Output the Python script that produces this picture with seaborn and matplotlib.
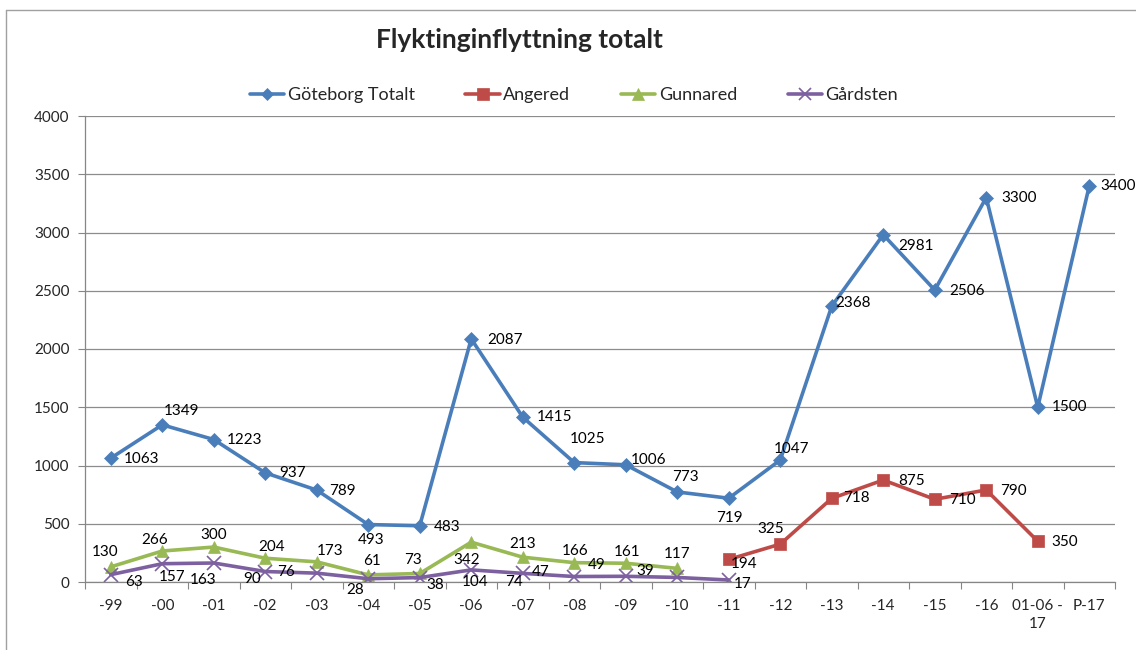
import numpy as np
import pandas as pd
import matplotlib
matplotlib.use("Agg")
import matplotlib.pyplot as plt
from matplotlib.lines import Line2D
import seaborn as sns

categories = ["-99", "-00", "-01", "-02", "-03", "-04", "-05", "-06", "-07", "-08",
              "-09", "-10", "-11", "-12", "-13", "-14", "-15", "-16", "01-06 -\n17", "P-17"]
goteborg = [1063, 1349, 1223, 937, 789, 493, 483, 2087, 1415, 1025,
            1006, 773, 719, 1047, 2368, 2981, 2506, 3300, 1500, 3400]
angered = [None] * 12 + [194, 325, 718, 875, 710, 790, 350, None]
gunnared = [130, 266, 300, 204, 173, 61, 73, 342, 213, 166, 161, 117] + [None] * 8
gardsten = [63, 157, 163, 90, 76, 28, 38, 104, 74, 47, 49, 39, 17] + [None] * 7

series_names = ["Göteborg Totalt", "Angered", "Gunnared", "Gårdsten"]
series_values = [goteborg, angered, gunnared, gardsten]

# data-label centre offsets in pixels (right, down) -- style only
off_got = [(31, 1), (19, -14), (31, 0), (27, 0), (26, 1), (3, 15), (27, 1), (34, 1), (32, 0), (13, -24),
           (23, -5), (8, -15), (1, 20), (11, -11), (21, -3), (33, 11), (32, 1), (33, 0), (32, 0), (29, 0)]
off_ang = [None] * 12 + [(15, 5), (-10, -15), (25, 0), (28, 1), (28, 1), (27, 1), (27, 1), None]
off_gun = [(-6, -15), (-8, -11), (0, -12), (6, -11), (13, -11), (4, -14), (-7, -13), (-5, 18),
           (0, -13), (1, -12), (1, -11), (0, -14)] + [None] * 8
off_gar = [(23, 7), (10, 13), (-11, 17), (-13, 7), (-31, -1), (-13, 11), (15, 7), (4, 12), (-9, 9),
           (-34, -5), (-29, -11), (-32, -6), (14, 4)] + [None] * 7
offsets = [off_got, off_ang, off_gun, off_gar]

colors = ["#4A7EBB", "#BE4B48", "#98B954", "#7D60A0"]
markers = ["D", "s", "^", "x"]
msizes = [7, 9, 9, 10]

sns.set_theme(style="white")
plt.rcParams["font.family"] = ["Lato", "DejaVu Sans"]

fig = plt.figure(figsize=(11.36, 6.5), dpi=100)
ax = fig.add_axes([85 / 1136, 1 - 582 / 650, (1115 - 85) / 1136, (582 - 116) / 650])

x = np.arange(len(categories))
for name, vals, col, mk, ms in zip(series_names, series_values, colors, markers, msizes):
    df = pd.DataFrame({"x": x, "y": pd.array(vals, dtype="Float64").astype(float)}).dropna()
    sns.lineplot(data=df, x="x", y="y", ax=ax, color=col, linewidth=2.6, marker=mk,
                 markersize=ms, markeredgecolor=col, markeredgewidth=1.2 if mk == "x" else 0.5,
                 sort=False, legend=False)

for vals, offs in zip(series_values, offsets):
    for i, (v, o) in enumerate(zip(vals, offs)):
        if v is None or o is None:
            continue
        ax.annotate(str(v), (i, v), xytext=(o[0], -o[1]), textcoords="offset pixels",
                    ha="center", va="center", fontsize=11, color="black")

ax.set_xlim(-0.5, len(categories) - 0.5)
ax.set_ylim(0, 4000)
ax.set_yticks(np.arange(0, 4001, 500))
ax.set_yticklabels([str(t) for t in range(0, 4001, 500)], fontsize=11)
ax.set_xticks(x)
ax.set_xticklabels(categories, fontsize=11, linespacing=1.35)
ax.set_xticks(np.arange(-0.5, len(categories), 1), minor=True)
ax.tick_params(axis="x", which="major", length=0, pad=12)
ax.tick_params(axis="x", which="minor", length=5, color="#868686", width=0.8, direction="out", bottom=True)
ax.tick_params(axis="y", length=5, color="#868686", width=0.8, direction="out", left=True, pad=6)
ax.set_xlabel("")
ax.set_ylabel("")
ax.yaxis.grid(True, color="#8C8C8C", linewidth=0.9)
ax.xaxis.grid(False)
ax.set_axisbelow(True)
for s in ["top", "right"]:
    ax.spines[s].set_visible(False)
for s in ["left", "bottom"]:
    ax.spines[s].set_color("#868686")
    ax.spines[s].set_linewidth(0.9)

fig.text(519 / 1136, 1 - 40 / 650, "Flyktinginflyttning totalt", ha="center", va="center",
         fontsize=19, fontweight="bold")

handles = [Line2D([0], [0], color=c, linewidth=2.6, marker=m, markersize=ms * 0.9,
                  markeredgecolor=c, markeredgewidth=1.2 if m == "x" else 0.5)
           for c, m, ms in zip(colors, markers, msizes)]
fig.legend(handles, series_names, loc="center", bbox_to_anchor=(574 / 1136, 1 - 95 / 650),
           ncol=4, frameon=False, fontsize=13, handlelength=1.9, handletextpad=0.2,
           columnspacing=2.8)

# chart border
fig.add_artist(Line2D([6 / 1136, 6 / 1136], [0, 1 - 10 / 650], color="#A0A0A0", linewidth=1,
                      transform=fig.transFigure))
fig.add_artist(Line2D([6 / 1136, 1], [1 - 10 / 650, 1 - 10 / 650], color="#A0A0A0", linewidth=1,
                      transform=fig.transFigure))

fig.savefig("out.png", dpi=100)
